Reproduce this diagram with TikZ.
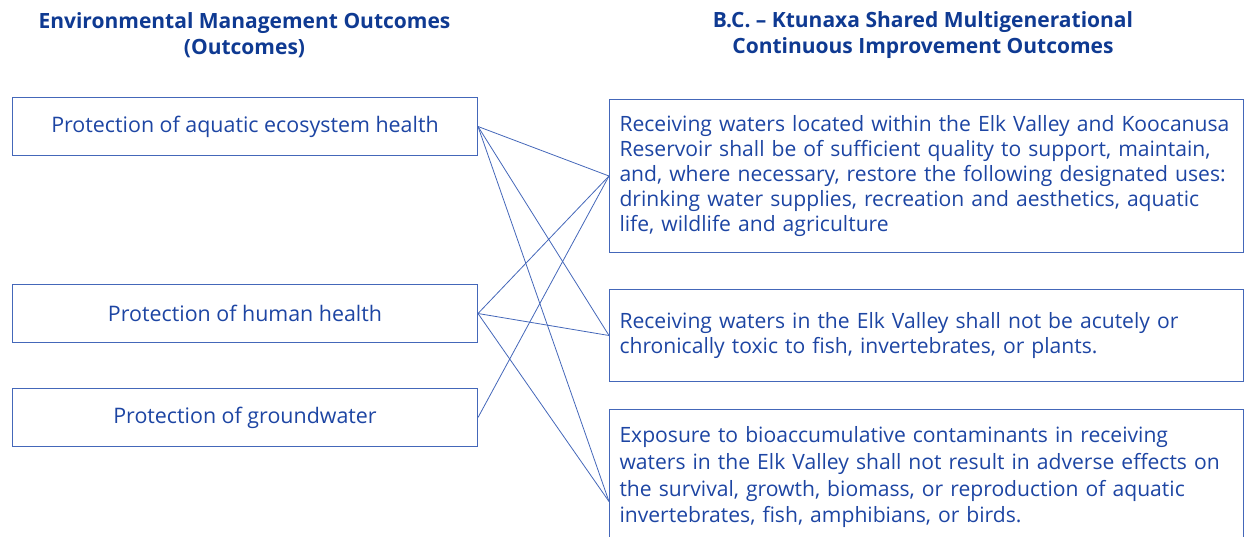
\documentclass[tikz,border=0pt]{standalone}
\usepackage{fontspec}
\setmainfont{Open Sans}
\usepackage{xcolor}

\definecolor{txtblue}{HTML}{1D45A3}
\definecolor{headblue}{HTML}{0F3A92}
\definecolor{lineblue}{HTML}{4467B9}

\begin{document}
\begin{tikzpicture}[x=1pt, y=-1pt,
    head/.style={align=center, text=headblue, font=\fontsize{21}{25.5}\selectfont\bfseries},
    leftbox/.style={draw=lineblue, line width=1pt, anchor=north west, minimum width=465pt, minimum height=58pt, text=txtblue, font=\fontsize{21.4}{25}\selectfont},
    rightbox/.style={draw=lineblue, line width=1pt, anchor=north west, text width=614pt, inner xsep=10pt, align=left, text=txtblue, font=\fontsize{21.1}{25.2}\selectfont},
    link/.style={lineblue, line width=0.8pt}]

    \useasboundingbox (0,0) rectangle (1244,536);
    \clip (0,0) rectangle (1244,536);

    % Draw the headings
    \node[head] (lefthead) at (244.5,35) {Environmental Management Outcomes\\(Outcomes)};
    \node[head] (righthead) at (923,35) {B.C. – Ktunaxa Shared Multigenerational\\Continuous Improvement Outcomes};

    % Left column
    \node[leftbox] (aquatic) at (12,97) {Protection of aquatic ecosystem health};
    \node[leftbox] (human) at (12,284) {Protection of human health};
    \node[leftbox] (ground) at (12,388) {Protection of groundwater};

    % Right column
    \node[rightbox, minimum height=153pt] (uses) at (609,99) {Receiving waters located within the Elk Valley and Koocanusa\\
        Reservoir shall be of sufficient quality to support, maintain,\\
        and, where necessary, restore the following designated uses:\\
        drinking water supplies, recreation and aesthetics, aquatic\\
        life, wildlife and agriculture};
    \node[rightbox, minimum height=92pt] (toxic) at (609,289) {Receiving waters in the Elk Valley shall not be acutely or\\
        chronically toxic to fish, invertebrates, or plants.};
    \node[rightbox, minimum height=184pt, font=\fontsize{21.1}{26.7}\selectfont] (bioacc) at (609,409) {Exposure to bioaccumulative contaminants in receiving\\
        waters in the Elk Valley shall not result in adverse effects on\\
        the survival, growth, biomass, or reproduction of aquatic\\
        invertebrates, fish, amphibians, or birds.\\
        \mbox{}\\
        \mbox{}};

    % Links
    \draw[link] (aquatic.east) -- (uses.west);
    \draw[link] (aquatic.east) -- (toxic.west);
    \draw[link] (aquatic.east) -- (bioacc.west);
    \draw[link] (human.east) -- (uses.west);
    \draw[link] (human.east) -- (toxic.west);
    \draw[link] (human.east) -- (bioacc.west);
    \draw[link] (ground.east) -- (uses.west);

\end{tikzpicture}
\end{document}
